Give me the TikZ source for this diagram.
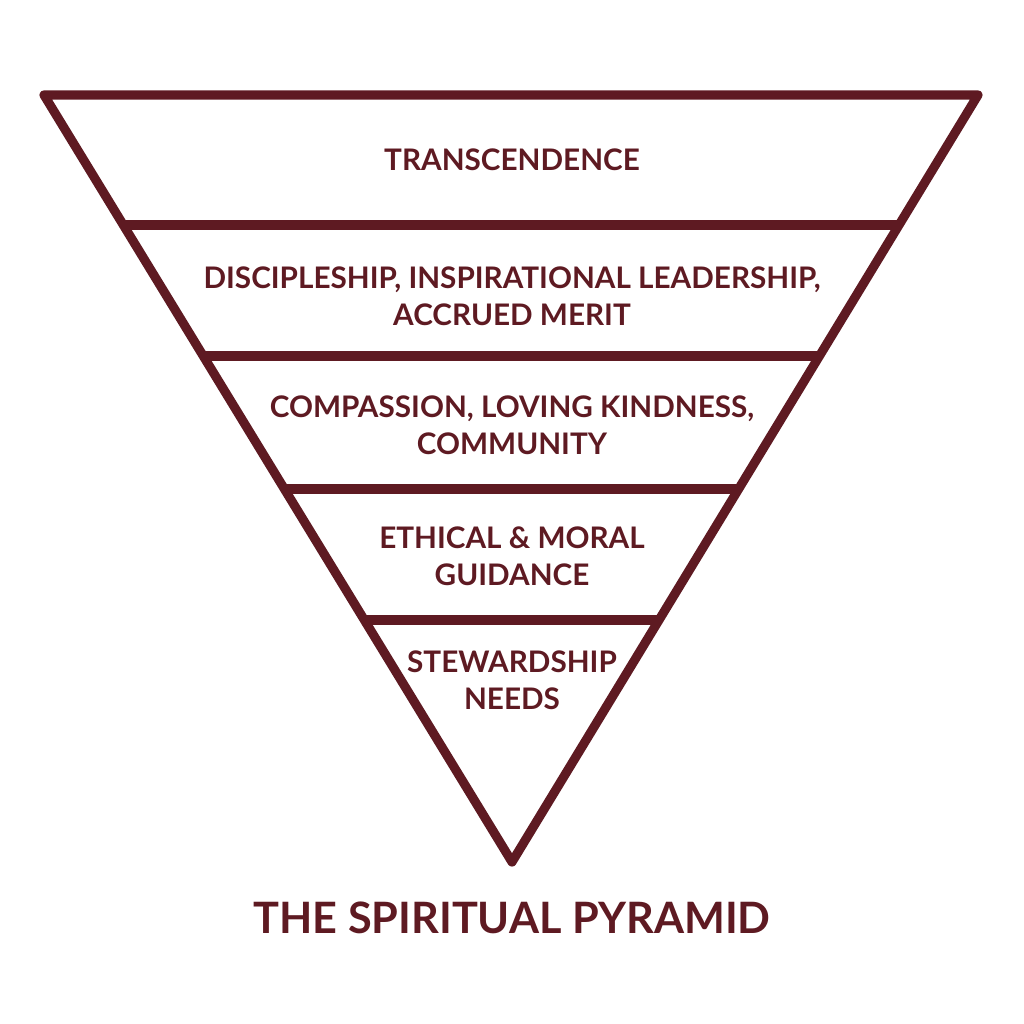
\documentclass[tikz,border=0pt]{standalone}
\usepackage{fontspec}
\setmainfont{Lato}
\usetikzlibrary{calc}
\definecolor{maroon}{HTML}{5E1A22}
\tikzset{
  tier/.style={text=maroon, font=\fontsize{8.45}{10.5}\selectfont\bfseries, align=center},
  edge/.style={draw=maroon, line width=2.6pt, line join=round, line cap=round}
}
\begin{document}
\begin{tikzpicture}
                \useasboundingbox (0,0) rectangle (10.24,10.24);
                \coordinate (tl)   at (0.44, 9.29);
                \coordinate (tr)   at (9.78, 9.29);
                \coordinate (apex) at (5.12, 1.62);
                \draw[edge] (tl) -- (tr) -- (apex) -- cycle;
                \foreach \t in {0.1695, 0.3403, 0.5137, 0.6845}
                    \draw[edge, line cap=butt] ($(tl)!\t!(apex)$) -- ($(tr)!\t!(apex)$);
                \node(trans) at(5.12, 8.64) [tier] {TRANSCENDENCE};
                \node(disc)  at(5.12, 7.28) [tier] {DISCIPLESHIP, INSPIRATIONAL LEADERSHIP,\\ACCRUED MERIT};
                \node(comp)  at(5.12, 5.99) [tier] {COMPASSION, LOVING KINDNESS,\\COMMUNITY};
                \node(ethic) at(5.12, 4.68) [tier] {ETHICAL \& MORAL\\GUIDANCE};
                \node(stew)  at(5.12, 3.44) [tier] {STEWARDSHIP\\NEEDS};
                \node(title) at(5.12, 1.06) [tier, font=\fontsize{12.3}{15}\selectfont\bfseries] {THE SPIRITUAL PYRAMID};
            \end{tikzpicture}
\end{document}
